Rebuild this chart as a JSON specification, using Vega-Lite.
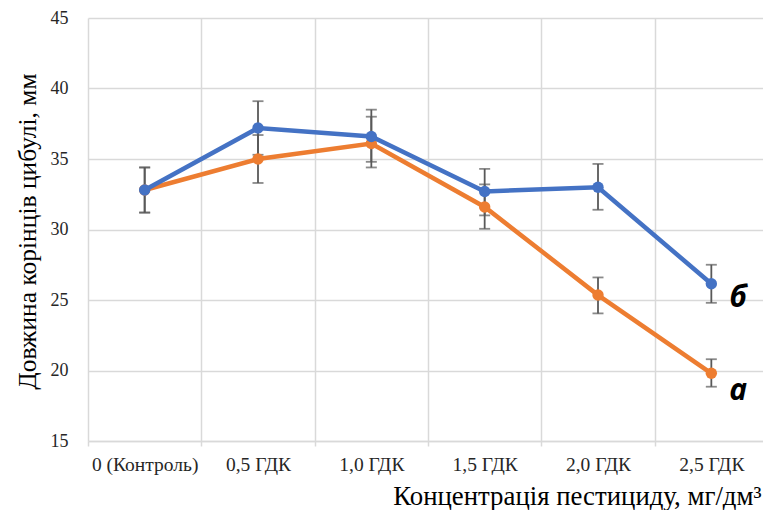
{
  "$schema": "https://vega.github.io/schema/vega-lite/v6.json",
  "width": 675,
  "height": 423,
  "autosize": {"type": "none"},
  "padding": {"left": 88, "top": 18, "right": 0, "bottom": 69},
  "background": "white",
  "config": {
    "view": {"stroke": null},
    "font": "Liberation Serif"
  },
  "datasets": {
    "main": [
      {"cat": "0 (Контроль)", "series": "а", "value": 32.8, "lo": 31.2, "hi": 34.4},
      {"cat": "0,5 ГДК", "series": "а", "value": 35.0, "lo": 33.3, "hi": 36.7},
      {"cat": "1,0 ГДК", "series": "а", "value": 36.1, "lo": 34.4, "hi": 38.0},
      {"cat": "1,5 ГДК", "series": "а", "value": 31.6, "lo": 30.05, "hi": 33.2},
      {"cat": "2,0 ГДК", "series": "а", "value": 25.35, "lo": 24.05, "hi": 26.6},
      {"cat": "2,5 ГДК", "series": "а", "value": 19.8, "lo": 18.85, "hi": 20.8},
      {"cat": "0 (Контроль)", "series": "б", "value": 32.8, "lo": 31.2, "hi": 34.4},
      {"cat": "0,5 ГДК", "series": "б", "value": 37.2, "lo": 35.3, "hi": 39.1},
      {"cat": "1,0 ГДК", "series": "б", "value": 36.6, "lo": 34.8, "hi": 38.5},
      {"cat": "1,5 ГДК", "series": "б", "value": 32.7, "lo": 31.0, "hi": 34.3},
      {"cat": "2,0 ГДК", "series": "б", "value": 33.0, "lo": 31.4, "hi": 34.65},
      {"cat": "2,5 ГДК", "series": "б", "value": 26.15, "lo": 24.8, "hi": 27.5}
    ],
    "labels": [
      {"cat": "2,5 ГДК", "value": 24.5, "label": "б"},
      {"cat": "2,5 ГДК", "value": 17.9, "label": "а"}
    ]
  },
  "encoding": {
    "x": {
      "field": "cat",
      "type": "nominal",
      "sort": ["0 (Контроль)", "0,5 ГДК", "1,0 ГДК", "1,5 ГДК", "2,0 ГДК", "2,5 ГДК"],
      "bandPosition": 0.5,
      "scale": {"type": "band", "paddingInner": 0, "paddingOuter": 0, "range": [0, 680]},
      "axis": {
        "title": "Концентрація пестициду, мг/дм³",
        "labelAngle": 0,
        "tickBand": "extent",
        "grid": true,
        "gridColor": "#d9d9d9",
        "gridWidth": 1.5,
        "domain": true,
        "domainColor": "#d9d9d9",
        "domainWidth": 1.5,
        "ticks": true,
        "tickColor": "#d9d9d9",
        "tickWidth": 1.5,
        "tickSize": 5,
        "labelFont": "Liberation Serif",
        "labelFontSize": 19.5,
        "labelColor": "#262626",
        "labelPadding": 9,
        "titleFont": "Liberation Serif",
        "titleFontSize": 26.8,
        "titleFontWeight": "normal",
        "titleColor": "#000000",
        "titleX": 673,
        "titleY": 63,
        "titleAlign": "right",
        "titleAnchor": null,
        "titleBaseline": "alphabetic"
      }
    }
  },
  "layer": [
    {
      "data": {"name": "main"},
      "mark": {"type": "rule", "color": "#595959", "strokeWidth": 1.8},
      "encoding": {
        "y": {
          "field": "lo",
          "type": "quantitative",
          "scale": {"domain": [15, 45], "nice": false, "zero": false},
          "axis": {
            "values": [15, 20, 25, 30, 35, 40, 45],
            "title": "Довжина корінців цибулі, мм",
            "domain": false,
            "ticks": false,
            "grid": true,
            "gridColor": "#d9d9d9",
            "gridWidth": 1.5,
            "labelFont": "Liberation Serif",
            "labelFontSize": 18,
            "labelColor": "#262626",
            "labelPadding": 20,
            "titleFont": "Liberation Serif",
            "titleFontSize": 25.5,
            "titleFontWeight": "normal",
            "titleColor": "#000000",
            "titleAngle": -90,
            "titleX": -61,
            "titleY": 213,
            "titleAlign": "center",
            "titleAnchor": null,
            "titleBaseline": "middle"
          }
        },
        "y2": {"field": "hi"}
      }
    },
    {
      "data": {"name": "main"},
      "mark": {"type": "tick", "color": "#595959", "thickness": 1.8, "size": 11},
      "encoding": {"y": {"field": "lo", "type": "quantitative"}}
    },
    {
      "data": {"name": "main"},
      "mark": {"type": "tick", "color": "#595959", "thickness": 1.8, "size": 11},
      "encoding": {"y": {"field": "hi", "type": "quantitative"}}
    },
    {
      "data": {"name": "main"},
      "transform": [{"filter": "datum.series === 'а'"}],
      "mark": {"type": "line", "color": "#ED7D31", "strokeWidth": 4.5, "point": {"filled": true, "size": 130, "color": "#ED7D31"}},
      "encoding": {"y": {"field": "value", "type": "quantitative"}}
    },
    {
      "data": {"name": "main"},
      "transform": [{"filter": "datum.series === 'б'"}],
      "mark": {"type": "line", "color": "#4472C4", "strokeWidth": 4.5, "point": {"filled": true, "size": 130, "color": "#4472C4"}},
      "encoding": {"y": {"field": "value", "type": "quantitative"}}
    },
    {
      "data": {"name": "labels"},
      "mark": {"type": "text", "align": "left", "baseline": "alphabetic", "dx": 18, "font": "Open Sans", "fontSize": 30, "fontWeight": "bold", "fontStyle": "italic", "color": "#000000"},
      "encoding": {
        "y": {"field": "value", "type": "quantitative"},
        "text": {"field": "label"}
      }
    }
  ]
}
